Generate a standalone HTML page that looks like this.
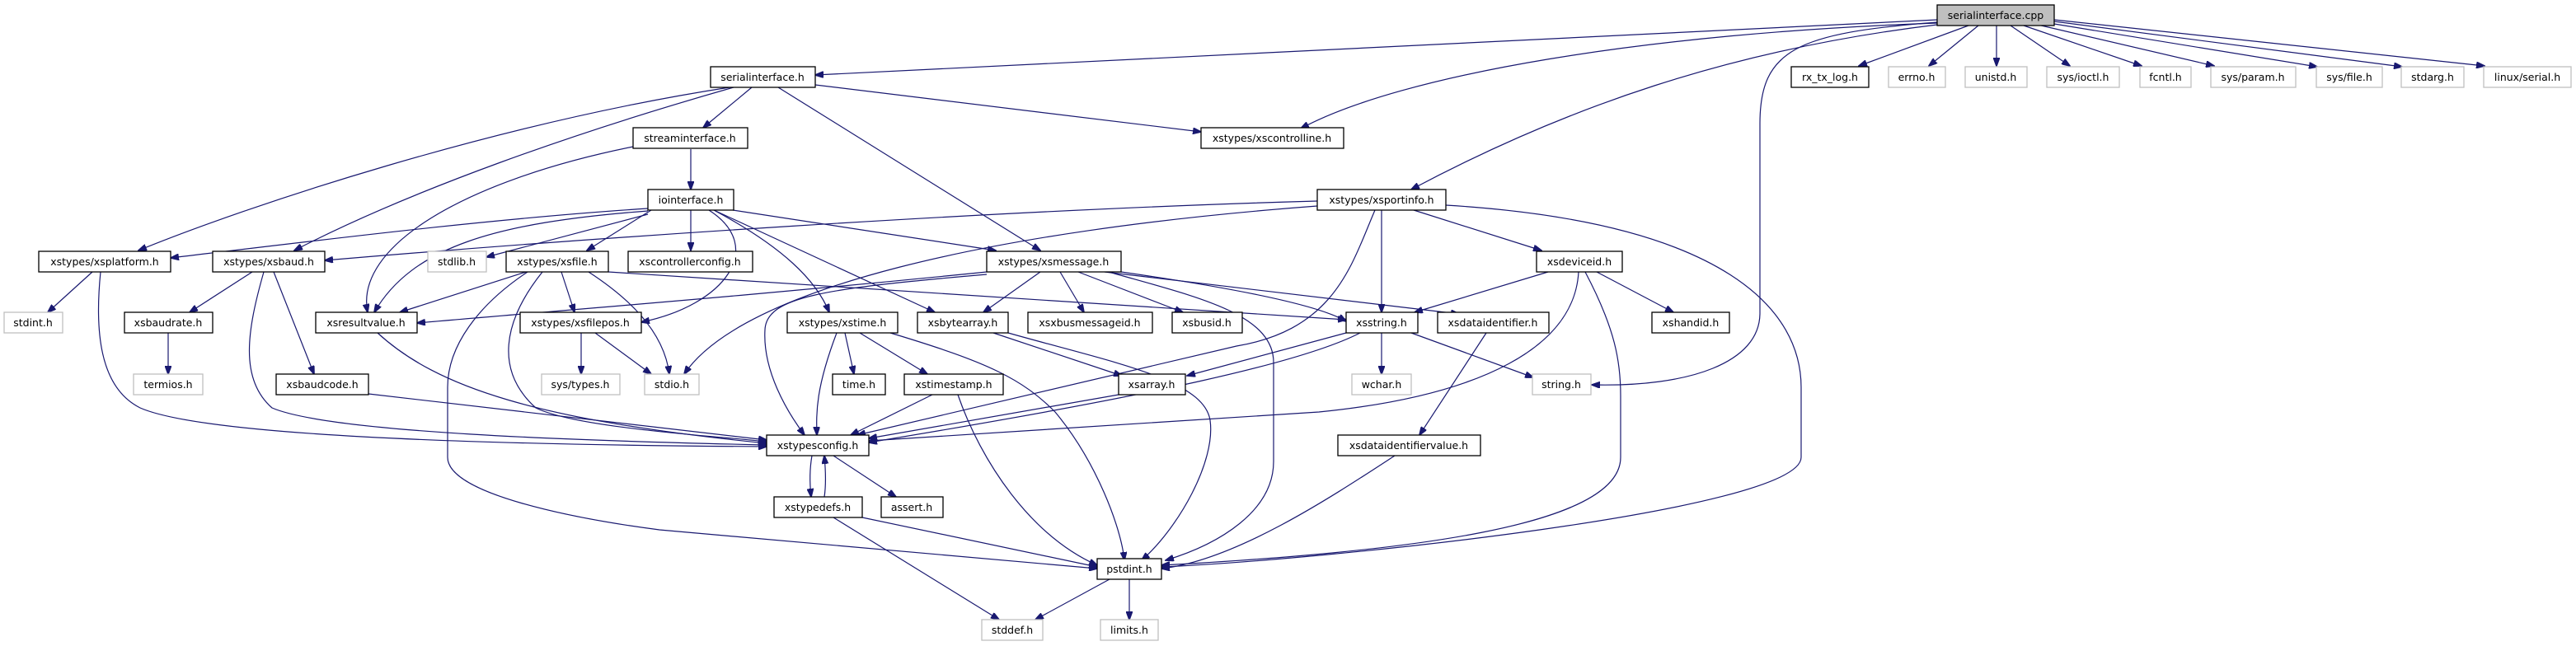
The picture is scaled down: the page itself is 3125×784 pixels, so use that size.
<!DOCTYPE html>
<html><head><meta charset="utf-8"><style>
html,body{margin:0;padding:0;background:#fff;}
svg{display:block;}
text{font-family:"DejaVu Sans","Liberation Sans",sans-serif;font-size:12.5px;text-anchor:middle;fill:#000;}
.b{fill:#fff;stroke:#000;stroke-width:1.3;}
.g{fill:#fff;stroke:#bfbfbf;stroke-width:1.3;}
.e{fill:none;stroke:#191970;stroke-width:1.2;}
</style></head><body>
<svg width="3125" height="784" viewBox="0 0 3125 784" xmlns="http://www.w3.org/2000/svg">
<defs><marker id="a" markerWidth="11" markerHeight="8" refX="10" refY="4" orient="auto" markerUnits="userSpaceOnUse"><path d="M0,0 L11,4 L0,8 z" fill="#191970" stroke="#191970"/></marker></defs>
<g marker-end="url(#a)" class="e">
<!-- cpp -->
<path d="M2350 24 L989 91"/>
<path d="M2350 28 C2000 40 1700 90 1578 156"/>
<path d="M2350 30 C2100 60 1900 130 1712 230"/>
<path d="M2350 27 C2180 40 2135 60 2135 150 L2135 380 C2135 440 2050 470 1931 467"/>
<path d="M2388 31 L2255 80"/>
<path d="M2400 31 L2340 80"/>
<path d="M2422 31 L2422 80"/>
<path d="M2439 31 L2511 80"/>
<path d="M2455 31 L2598 80"/>
<path d="M2472 30 L2686 80"/>
<path d="M2492 29 L2811 81"/>
<path d="M2492 26 L2914 81"/>
<path d="M2492 24 L3014 80"/>
<!-- serialinterface.h -->
<path d="M885 106 C600 150 300 250 168 304"/>
<path d="M890 106 C700 160 500 230 357 304"/>
<path d="M912 106 L853 155"/>
<path d="M944 106 L1262 304"/>
<path d="M989 103 L1457 160"/>
<!-- streaminterface -->
<path d="M838 181 L838 230"/>
<path d="M768 178 C560 220 430 300 446 379"/>
<!-- iointerface -->
<path d="M786 253 C600 265 400 290 207 313"/>
<path d="M786 260 L590 312"/>
<path d="M786 256 C600 270 500 300 454 379"/>
<path d="M790 255 L712 304"/>
<path d="M838 255 L838 304"/>
<path d="M860 255 C930 300 880 370 778 391"/>
<path d="M866 255 C950 300 990 340 1006 379"/>
<path d="M866 255 L1134 379"/>
<path d="M889 255 L1208 304"/>
<!-- xsportinfo -->
<path d="M1598 244 C1200 255 700 290 394 316"/>
<path d="M1598 250 C1200 280 900 350 830 454"/>
<path d="M1668 255 C1640 320 1620 400 1500 420 L1040 528"/>
<path d="M1676 255 L1676 379"/>
<path d="M1715 255 L1870 304"/>
<path d="M1754 249 C2100 270 2185 380 2185 470 L2185 555 C2185 620 1600 680 1409 688"/>
<!-- xsdeviceid -->
<path d="M1878 330 L1716 379"/>
<path d="M1937 330 L2030 379"/>
<path d="M1915 330 C1910 420 1800 480 1600 500 L1054 535"/>
<path d="M1923 330 C1960 400 1966 440 1966 480 L1966 555 C1966 640 1700 670 1409 686"/>
<!-- xsstring -->
<path d="M1676 404 L1676 454"/>
<path d="M1712 404 L1860 458"/>
<path d="M1633 404 L1440 456"/>
<path d="M1650 404 C1580 440 1400 480 1054 537"/>
<path d="M1803 404 L1722 528"/>
<path d="M1692 553 C1620 600 1500 680 1409 690"/>
<!-- xsmessage -->
<path d="M1197 330 C900 360 700 375 506 392"/>
<path d="M1360 330 C1500 350 1600 370 1633 390"/>
<path d="M1340 330 L1770 381"/>
<path d="M1197 333 C1000 350 930 360 928 400 C925 450 955 500 976 528"/>
<path d="M1262 330 L1193 379"/>
<path d="M1286 330 L1315 379"/>
<path d="M1308 330 L1435 379"/>
<path d="M1345 330 C1450 360 1545 380 1545 440 L1545 560 C1545 620 1480 660 1414 680"/>
<!-- xsfile -->
<path d="M638 330 L485 379"/>
<path d="M681 330 L697 379"/>
<path d="M714 330 C760 360 805 400 812 454"/>
<path d="M658 330 C610 390 600 450 650 495 C700 520 880 530 930 536"/>
<path d="M640 330 C580 370 543 420 543 470 L543 555 C543 600 700 630 800 643 L1331 690"/>
<path d="M738 330 L1633 388"/>
<!-- xsfilepos -->
<path d="M705 404 L705 454"/>
<path d="M722 404 L790 454"/>
<!-- xsresultvalue -->
<path d="M458 404 C530 470 650 510 930 538"/>
<!-- xsplatform / xsbaud -->
<path d="M112 330 L58 379"/>
<path d="M122 330 C115 400 120 470 170 495 C250 530 600 540 930 542"/>
<path d="M306 330 L230 379"/>
<path d="M332 330 L381 454"/>
<path d="M320 330 C300 400 290 460 330 495 C400 525 700 535 930 540"/>
<path d="M204 404 L204 454"/>
<path d="M447 478 L930 534"/>
<!-- xstime -->
<path d="M1025 404 L1036 454"/>
<path d="M1043 404 L1125 454"/>
<path d="M1015 404 C990 470 990 500 991 528"/>
<path d="M1080 404 C1200 440 1240 460 1280 500 C1330 560 1360 640 1364 680"/>
<!-- xsbytearray -->
<path d="M1205 404 L1361 456"/>
<path d="M1223 404 C1350 440 1460 460 1468 510 C1475 560 1430 640 1385 680"/>
<!-- xstimestamp -->
<path d="M1131 479 L1032 528"/>
<path d="M1162 479 C1190 560 1250 650 1331 686"/>
<!-- xsarray -->
<path d="M1357 479 L1054 532"/>
<!-- xstypesconfig -->
<path d="M985 553 C982 570 982 585 984 603"/>
<path d="M1000 603 C1002 590 1002 575 1000 553"/>
<path d="M1011 553 L1087 603"/>
<!-- xstypedefs -->
<path d="M1046 628 L1331 688"/>
<path d="M1011 628 L1212 752"/>
<!-- pstdint -->
<path d="M1346 703 L1256 752"/>
<path d="M1370 703 L1370 752"/>
</g>
<!-- nodes -->
<rect x="2350" y="6" width="142" height="25" fill="#bfbfbf" stroke="#000" stroke-width="1.3"/><text x="2421" y="23">serialinterface.cpp</text>
<rect class="b" x="862" y="81" width="127" height="25"/><text x="925" y="98">serialinterface.h</text>
<rect class="b" x="2173" y="81" width="94" height="25"/><text x="2220" y="98">rx_tx_log.h</text>
<rect class="g" x="2291" y="81" width="69" height="25"/><text x="2325" y="98">errno.h</text>
<rect class="g" x="2384" y="81" width="75" height="25"/><text x="2421" y="98">unistd.h</text>
<rect class="g" x="2483" y="81" width="88" height="25"/><text x="2527" y="98">sys/ioctl.h</text>
<rect class="g" x="2596" y="81" width="62" height="25"/><text x="2627" y="98">fcntl.h</text>
<rect class="g" x="2682" y="81" width="103" height="25"/><text x="2733" y="98">sys/param.h</text>
<rect class="g" x="2810" y="81" width="80" height="25"/><text x="2850" y="98">sys/file.h</text>
<rect class="g" x="2913" y="81" width="76" height="25"/><text x="2951" y="98">stdarg.h</text>
<rect class="g" x="3013" y="81" width="106" height="25"/><text x="3066" y="98">linux/serial.h</text>
<rect class="b" x="768" y="155" width="139" height="25"/><text x="837" y="172">streaminterface.h</text>
<rect class="b" x="1457" y="155" width="173" height="25"/><text x="1543" y="172">xstypes/xscontrolline.h</text>
<rect class="b" x="786" y="230" width="104" height="25"/><text x="838" y="247">iointerface.h</text>
<rect class="b" x="1598" y="230" width="156" height="25"/><text x="1676" y="247">xstypes/xsportinfo.h</text>
<rect class="b" x="47" y="305" width="160" height="25"/><text x="127" y="322">xstypes/xsplatform.h</text>
<rect class="b" x="258" y="305" width="136" height="25"/><text x="326" y="322">xstypes/xsbaud.h</text>
<rect class="g" x="519" y="305" width="71" height="25"/><text x="554" y="322">stdlib.h</text>
<rect class="b" x="614" y="305" width="124" height="25"/><text x="676" y="322">xstypes/xsfile.h</text>
<rect class="b" x="762" y="305" width="151" height="25"/><text x="837" y="322">xscontrollerconfig.h</text>
<rect class="b" x="1197" y="305" width="163" height="25"/><text x="1278" y="322">xstypes/xsmessage.h</text>
<rect class="b" x="1864" y="305" width="104" height="25"/><text x="1916" y="322">xsdeviceid.h</text>
<rect class="g" x="5" y="379" width="71" height="25"/><text x="40" y="396">stdint.h</text>
<rect class="b" x="151" y="379" width="107" height="25"/><text x="204" y="396">xsbaudrate.h</text>
<rect class="b" x="383" y="379" width="123" height="25"/><text x="444" y="396">xsresultvalue.h</text>
<rect class="b" x="631" y="379" width="147" height="25"/><text x="704" y="396">xstypes/xsfilepos.h</text>
<rect class="b" x="955" y="379" width="134" height="25"/><text x="1022" y="396">xstypes/xstime.h</text>
<rect class="b" x="1113" y="379" width="110" height="25"/><text x="1168" y="396">xsbytearray.h</text>
<rect class="b" x="1247" y="379" width="151" height="25"/><text x="1322" y="396">xsxbusmessageid.h</text>
<rect class="b" x="1422" y="379" width="85" height="25"/><text x="1464" y="396">xsbusid.h</text>
<rect class="b" x="1633" y="379" width="87" height="25"/><text x="1676" y="396">xsstring.h</text>
<rect class="b" x="1744" y="379" width="135" height="25"/><text x="1811" y="396">xsdataidentifier.h</text>
<rect class="b" x="2004" y="379" width="94" height="25"/><text x="2051" y="396">xshandid.h</text>
<rect class="g" x="162" y="454" width="84" height="25"/><text x="204" y="471">termios.h</text>
<rect class="b" x="335" y="454" width="112" height="25"/><text x="391" y="471">xsbaudcode.h</text>
<rect class="g" x="657" y="454" width="95" height="25"/><text x="704" y="471">sys/types.h</text>
<rect class="g" x="782" y="454" width="66" height="25"/><text x="815" y="471">stdio.h</text>
<rect class="b" x="1010" y="454" width="64" height="25"/><text x="1042" y="471">time.h</text>
<rect class="b" x="1097" y="454" width="120" height="25"/><text x="1157" y="471">xstimestamp.h</text>
<rect class="b" x="1357" y="454" width="81" height="25"/><text x="1397" y="471">xsarray.h</text>
<rect class="g" x="1640" y="454" width="72" height="25"/><text x="1676" y="471">wchar.h</text>
<rect class="g" x="1859" y="454" width="71" height="25"/><text x="1894" y="471">string.h</text>
<rect class="b" x="930" y="528" width="124" height="25"/><text x="992" y="545">xstypesconfig.h</text>
<rect class="b" x="1623" y="528" width="173" height="25"/><text x="1709" y="545">xsdataidentifiervalue.h</text>
<rect class="b" x="939" y="603" width="107" height="25"/><text x="992" y="620">xstypedefs.h</text>
<rect class="b" x="1069" y="603" width="75" height="25"/><text x="1106" y="620">assert.h</text>
<rect class="b" x="1331" y="678" width="78" height="25"/><text x="1370" y="695">pstdint.h</text>
<rect class="g" x="1191" y="752" width="74" height="25"/><text x="1228" y="769">stddef.h</text>
<rect class="g" x="1335" y="752" width="70" height="25"/><text x="1370" y="769">limits.h</text>
</svg>
</body></html>
